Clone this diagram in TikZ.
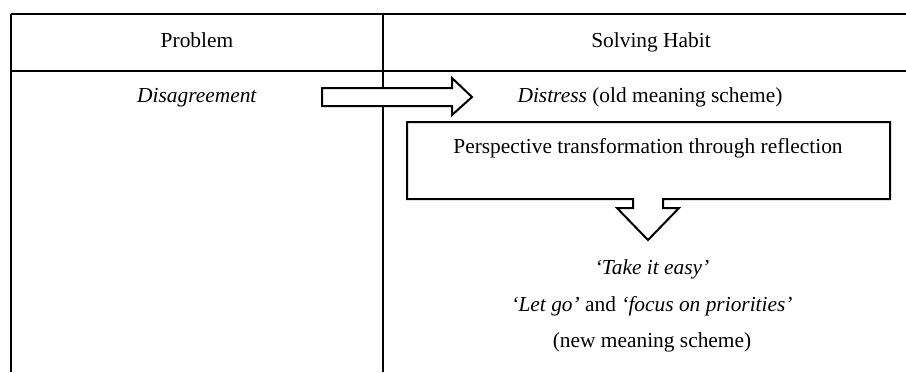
\documentclass[tikz,border=0pt]{standalone}
\usepackage{fontspec}
\setmainfont{Liberation Serif}
\usetikzlibrary{
    arrows.meta,
    positioning,
    calc
}

\begin{document}
\begin{tikzpicture}[
    x=0.5pt, y=-0.5pt,
    font=\fontsize{10.7}{12.8}\selectfont,
    rule/.style={line width=1pt},
    cell/.style={text height=1.6ex, text depth=0.45ex},
    blockarrow/.style={draw, line width=1pt, fill=white, line join=miter}
]

\useasboundingbox (0,0) rectangle (906,372);

\coordinate (TL) at (11,14);
\coordinate (TR) at (906,14);
\coordinate (HL) at (11,71);
\coordinate (HR) at (906,71);
\coordinate (BL) at (11,372);
\coordinate (MT) at (383,14);
\coordinate (MB) at (383,372);

\draw[rule] (TL) -- (TR);
\draw[rule] (HL) -- (HR);
\draw[rule] (TL) -- (BL);
\draw[rule] (MT) -- (MB);

\node[cell] (problem) at (197,42) {Problem};
\node[cell] (habit) at (651,42) {Solving Habit};

\node[cell] (disagree) at (197,97) {\textit{Disagreement}};
\node[cell] (distress) at (650,97) {\textit{Distress} (old meaning scheme)};

% arrow to the right
\draw[blockarrow]
    (322,88) -- (452,88) -- (452,78) -- (472,97)
    -- (452,115) -- (452,106) -- (322,106) -- cycle;

% box with arrow down
\draw[blockarrow]
    (407,122) -- (890,122) -- (890,199) -- (663,199)
    -- (663,208) -- (679,208) -- (648,240) -- (617,208)
    -- (633,208) -- (633,199) -- (407,199) -- cycle;

\node[cell] (reflect) at (648,148) {Perspective transformation through reflection};

\node[cell] (easy) at (652,269) {\textit{‘Take it easy’}};
\node[cell] (letgo) at (652,306) {\textit{‘Let go’} and \textit{‘focus on priorities’}};
\node[cell] (newscheme) at (652,342) {(new meaning scheme)};

\end{tikzpicture}
\end{document}
